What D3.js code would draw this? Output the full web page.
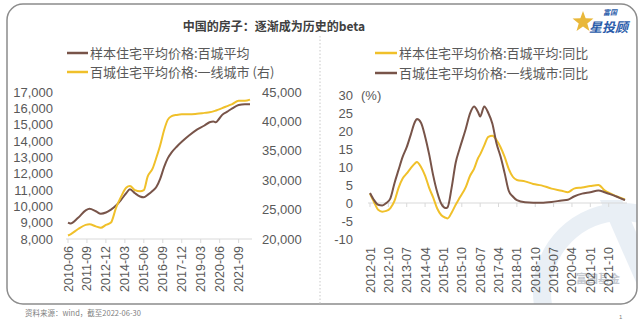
<!DOCTYPE html>
<html><head><meta charset="utf-8">
<script src="https://cdn.jsdelivr.net/npm/d3@7"></script>
<style>
html,body{margin:0;padding:0;background:#fff;}
svg{display:block;}
text{font-family:"Liberation Sans","Noto Sans CJK SC",sans-serif;}
.cjk{font-family:"Noto Sans CJK SC","Liberation Sans",sans-serif;}
</style></head>
<body>
<script>
// ---------- data ----------
const titleText = "中国的房子：逐渐成为历史的beta";
const sourceText = "资料来源：wind，截至2022-06-30";

// Left chart (monthly, 2010-06 .. 2022-06)
const leftStart = "2010-06", leftEnd = "2022-06";
const leftTickLabels = ["2010-06","2011-09","2012-12","2014-03","2015-06","2016-09","2017-12","2019-03","2020-06","2021-09"];
const leftAxisTicks = [8000,9000,10000,11000,12000,13000,14000,15000,16000,17000];
const rightAxisTicks = [20000,25000,30000,35000,40000,45000];
const priceDates = ["2010-06","2010-08","2011-02","2011-08","2011-11","2012-04","2012-08","2012-12","2013-04","2013-08","2013-12","2014-04","2014-07","2014-11","2015-03","2015-06","2015-09","2016-01","2016-04","2016-07","2016-10","2017-01","2017-04","2017-08","2017-12","2018-06","2018-12","2019-06","2019-10","2020-01","2020-03","2020-05","2020-08","2020-12","2021-04","2021-09","2022-02","2022-06"];
const avgPrice100 = [9000,8950,9300,9750,9850,9700,9550,9620,9800,10050,10400,10800,11050,10800,10600,10550,10700,10950,11200,11700,12400,12950,13300,13650,13950,14350,14700,14950,15150,15200,15150,15300,15600,15800,16000,16200,16250,16250];
const tier1Price = [20600,20800,21700,22400,22500,22150,21900,22400,22800,25300,27200,28700,29000,28300,28100,28300,30600,32000,33900,36000,38500,40300,40900,41100,41200,41200,41300,41450,41550,41700,41850,42000,42250,42600,42950,43500,43500,43700];
const leftSeriesNames = ["样本住宅平均价格:百城平均","百城住宅平均价格:一线城市 (右)"];

// Right chart (monthly, 2012-01 .. 2022-06), YoY %
const rightStart = "2012-01", rightEnd = "2022-06";
const rightTickLabels = ["2012-01","2012-10","2013-07","2014-04","2015-01","2015-10","2016-07","2017-04","2018-01","2018-10","2019-07","2020-04","2021-01","2021-10"];
const yoyTicks = [-10,-5,0,5,10,15,20,25,30];
const yoyDates = ["2012-01","2012-03","2012-05","2012-07","2012-09","2012-11","2013-01","2013-03","2013-05","2013-07","2013-09","2013-11","2013-12","2014-02","2014-04","2014-06","2014-08","2014-10","2014-12","2015-02","2015-03","2015-05","2015-07","2015-09","2015-12","2016-02","2016-04","2016-06","2016-07","2016-09","2016-11","2017-01","2017-03","2017-05","2017-07","2017-09","2017-11","2018-01","2018-05","2018-09","2019-01","2019-06","2019-11","2020-02","2020-05","2020-09","2021-01","2021-05","2021-08","2021-11","2022-03","2022-06"];
const yoyAvg100 = [2.6,0.2,-1.9,-2.4,-2.2,-1.4,0.6,4.2,6.8,8.2,9.7,11.0,11.4,10.0,7.6,4.2,1.5,-1.6,-3.4,-4.1,-4.3,-2.7,-0.5,1.5,4.5,7.5,9.5,12.5,13.5,16.0,18.4,18.7,17.5,15.5,12.8,9.5,7.3,6.4,6.0,5.3,4.9,4.0,3.4,3.0,4.0,4.3,4.7,5.0,3.5,2.6,1.6,1.0];
const yoyTier1 = [2.8,0.8,-0.5,-0.7,0,1.3,5.5,9.2,12.8,15.5,19.0,22.5,23.3,22.3,18.5,13.5,7.6,2.9,-0.3,-1.4,-1.2,4.2,11.2,15.2,20.7,24.8,26.8,25.2,24.0,26.8,25.0,22.0,16.6,12.9,8.3,3.4,1.8,0.8,0.2,0.1,0.1,0.3,0.7,0.9,1.8,2.6,3.0,3.5,3.0,2.4,1.5,0.8];
const rightSeriesNames = ["样本住宅平均价格:百城平均:同比","百城住宅平均价格:一线城市:同比"];

const BROWN = "#785449", GOLD = "#f0c02a", TXT = "#595959";

// ---------- helpers ----------
function monthsBetween(a, b){
  const [ya,ma]=a.split("-").map(Number), [yb,mb]=b.split("-").map(Number);
  const out=[]; let y=ya,m=ma;
  while(y<yb || (y===yb && m<=mb)){ out.push(y+"-"+String(m).padStart(2,"0")); m++; if(m>12){m=1;y++;} }
  return out;
}

const W=640,H=321;
const svg=d3.select("body").append("svg").attr("width",W).attr("height",H);

// clip for watermark
const defs=svg.append("defs");
defs.append("clipPath").attr("id","frame").append("rect")
  .attr("x",7).attr("y",4).attr("width",630).attr("height",300).attr("rx",16);

// watermark
const wm=svg.append("g").attr("clip-path","url(#frame)").attr("opacity",0.5);
wm.append("circle").attr("cx",622).attr("cy",292).attr("r",80)
  .attr("fill","none").attr("stroke","#d3dfec").attr("stroke-width",18);
wm.append("path").attr("d","M600,200 L622,200 L668,305 L646,305 Z").attr("fill","#d3dfec");
svg.append("text").attr("class","cjk").attr("x",598).attr("y",283).attr("text-anchor","middle")
  .attr("font-size",11).attr("fill","#c4c8cf").attr("font-weight","bold").text("富国基金");

// frame
svg.append("rect").attr("x",7).attr("y",4).attr("width",630).attr("height",300).attr("rx",16)
  .attr("fill","none").attr("stroke","#8c8c8c").attr("stroke-width",1.5);
// divider
svg.append("line").attr("x1",320).attr("x2",320).attr("y1",36).attr("y2",304)
  .attr("stroke","#c8c8c8").attr("stroke-width",1).attr("stroke-dasharray","1.5,2");

// title
svg.append("text").attr("class","cjk").attr("x",274).attr("y",31).attr("text-anchor","middle")
  .attr("font-size",12).attr("font-weight","bold").attr("fill","#404040").text(titleText);

// logo
const logo=svg.append("g");
const star=d3.range(10).map(i=>{const r=i%2?4.5:11;const a=-Math.PI/2+i*Math.PI/5;return [583+r*Math.cos(a),22+r*Math.sin(a)];});
logo.append("polygon").attr("points",star.map(p=>p.join(",")).join(" ")).attr("fill","#e9b83a");
logo.append("text").attr("class","cjk").attr("x",610).attr("y",15).attr("text-anchor","middle")
  .attr("font-size",7).attr("font-weight","bold").attr("font-style","italic").attr("fill","#2a5caa").text("富国");
logo.append("text").attr("class","cjk").attr("x",589).attr("y",32)
  .attr("font-size",13).attr("font-weight","bold").attr("font-style","italic").attr("fill","#2a5caa").text("星投顾");

// ---------- left chart ----------
const lMonths=monthsBetween(leftStart,leftEnd);
const xL=d3.scalePoint().domain(lMonths).range([68,250]);
const yL=d3.scaleLinear().domain([8000,17000]).range([239,92]);
const yR=d3.scaleLinear().domain([20000,45000]).range([239,92]);

const gL=svg.append("g");
gL.append("line").attr("x1",66).attr("x2",252).attr("y1",yL(8000)).attr("y2",yL(8000)).attr("stroke","#d9d9d9");
gL.selectAll(".tk").data(leftTickLabels).join("line").attr("x1",d=>xL(d)).attr("x2",d=>xL(d))
  .attr("y1",239).attr("y2",243).attr("stroke","#d9d9d9");
gL.selectAll(".yl").data(leftAxisTicks).join("text").attr("x",53).attr("y",d=>yL(d)).attr("dy","0.36em")
  .attr("text-anchor","end").attr("font-size",13).attr("fill",TXT).text(d=>d3.format(",")(d));
gL.selectAll(".yr").data(rightAxisTicks).join("text").attr("x",262).attr("y",d=>yR(d)).attr("dy","0.36em")
  .attr("text-anchor","start").attr("font-size",13).attr("fill",TXT).text(d=>d3.format(",")(d));
gL.selectAll(".xl").data(leftTickLabels).join("text")
  .attr("transform",d=>`translate(${xL(d)},246) rotate(-90)`).attr("dy","0.36em")
  .attr("text-anchor","end").attr("font-size",12.5).attr("fill",TXT).text(d=>d);

const lineL=d3.line().x((d,i)=>xL(priceDates[i])).y(d=>yL(d)).curve(d3.curveMonotoneX);
const lineR=d3.line().x((d,i)=>xL(priceDates[i])).y(d=>yR(d)).curve(d3.curveMonotoneX);
gL.append("path").attr("d",lineL(avgPrice100)).attr("fill","none").attr("stroke",BROWN).attr("stroke-width",2);
gL.append("path").attr("d",lineR(tier1Price)).attr("fill","none").attr("stroke",GOLD).attr("stroke-width",2);

// legend left
[[BROWN,leftSeriesNames[0],53],[GOLD,leftSeriesNames[1],72]].forEach(([c,t,y])=>{
  gL.append("line").attr("x1",67).attr("x2",88).attr("y1",y).attr("y2",y).attr("stroke",c).attr("stroke-width",2.5);
  gL.append("text").attr("class","cjk").attr("x",90).attr("y",y).attr("dy","0.35em").attr("font-size",13).attr("fill",TXT).text(t);
});

// ---------- right chart ----------
const rMonths=monthsBetween(rightStart,rightEnd);
const xR=d3.scalePoint().domain(rMonths).range([370,625]);
const yY=d3.scaleLinear().domain([-10,30]).range([239,95]);

const gR=svg.append("g");
gR.append("line").attr("x1",368).attr("x2",627).attr("y1",yY(0)).attr("y2",yY(0)).attr("stroke","#d9d9d9");
gR.selectAll(".tk").data(rightTickLabels).join("line").attr("x1",d=>xR(d)).attr("x2",d=>xR(d))
  .attr("y1",yY(0)).attr("y2",yY(0)+4).attr("stroke","#d9d9d9");
gR.selectAll(".yl").data(yoyTicks).join("text").attr("x",353).attr("y",d=>yY(d)).attr("dy","0.36em")
  .attr("text-anchor","end").attr("font-size",13).attr("fill",TXT).text(d=>d);
gR.append("text").attr("x",361).attr("y",yY(30)).attr("dy","0.36em").attr("font-size",13).attr("fill",TXT).text("(%)");
gR.selectAll(".xl").data(rightTickLabels).join("text")
  .attr("transform",d=>`translate(${xR(d)},247) rotate(-90)`).attr("dy","0.36em")
  .attr("text-anchor","end").attr("font-size",12.5).attr("fill",TXT).text(d=>d);

const lineY=d3.line().x((d,i)=>xR(yoyDates[i])).y(d=>yY(d)).curve(d3.curveMonotoneX);
gR.append("path").attr("d",lineY(yoyAvg100)).attr("fill","none").attr("stroke",GOLD).attr("stroke-width",2);
gR.append("path").attr("d",lineY(yoyTier1)).attr("fill","none").attr("stroke",BROWN).attr("stroke-width",2);

[[GOLD,rightSeriesNames[0],53],[BROWN,rightSeriesNames[1],73]].forEach(([c,t,y])=>{
  gR.append("line").attr("x1",375).attr("x2",397).attr("y1",y).attr("y2",y).attr("stroke",c).attr("stroke-width",2.5);
  gR.append("text").attr("class","cjk").attr("x",399).attr("y",y).attr("dy","0.35em").attr("font-size",13).attr("fill",TXT).text(t);
});

// footer
svg.append("text").attr("class","cjk").attr("x",25).attr("y",316).attr("font-size",7.5).attr("fill","#7f7f7f").text(sourceText);
svg.append("text").attr("x",619).attr("y",319).attr("font-size",6).attr("fill","#7f7f7f").text("1");
</script>
</body></html>
